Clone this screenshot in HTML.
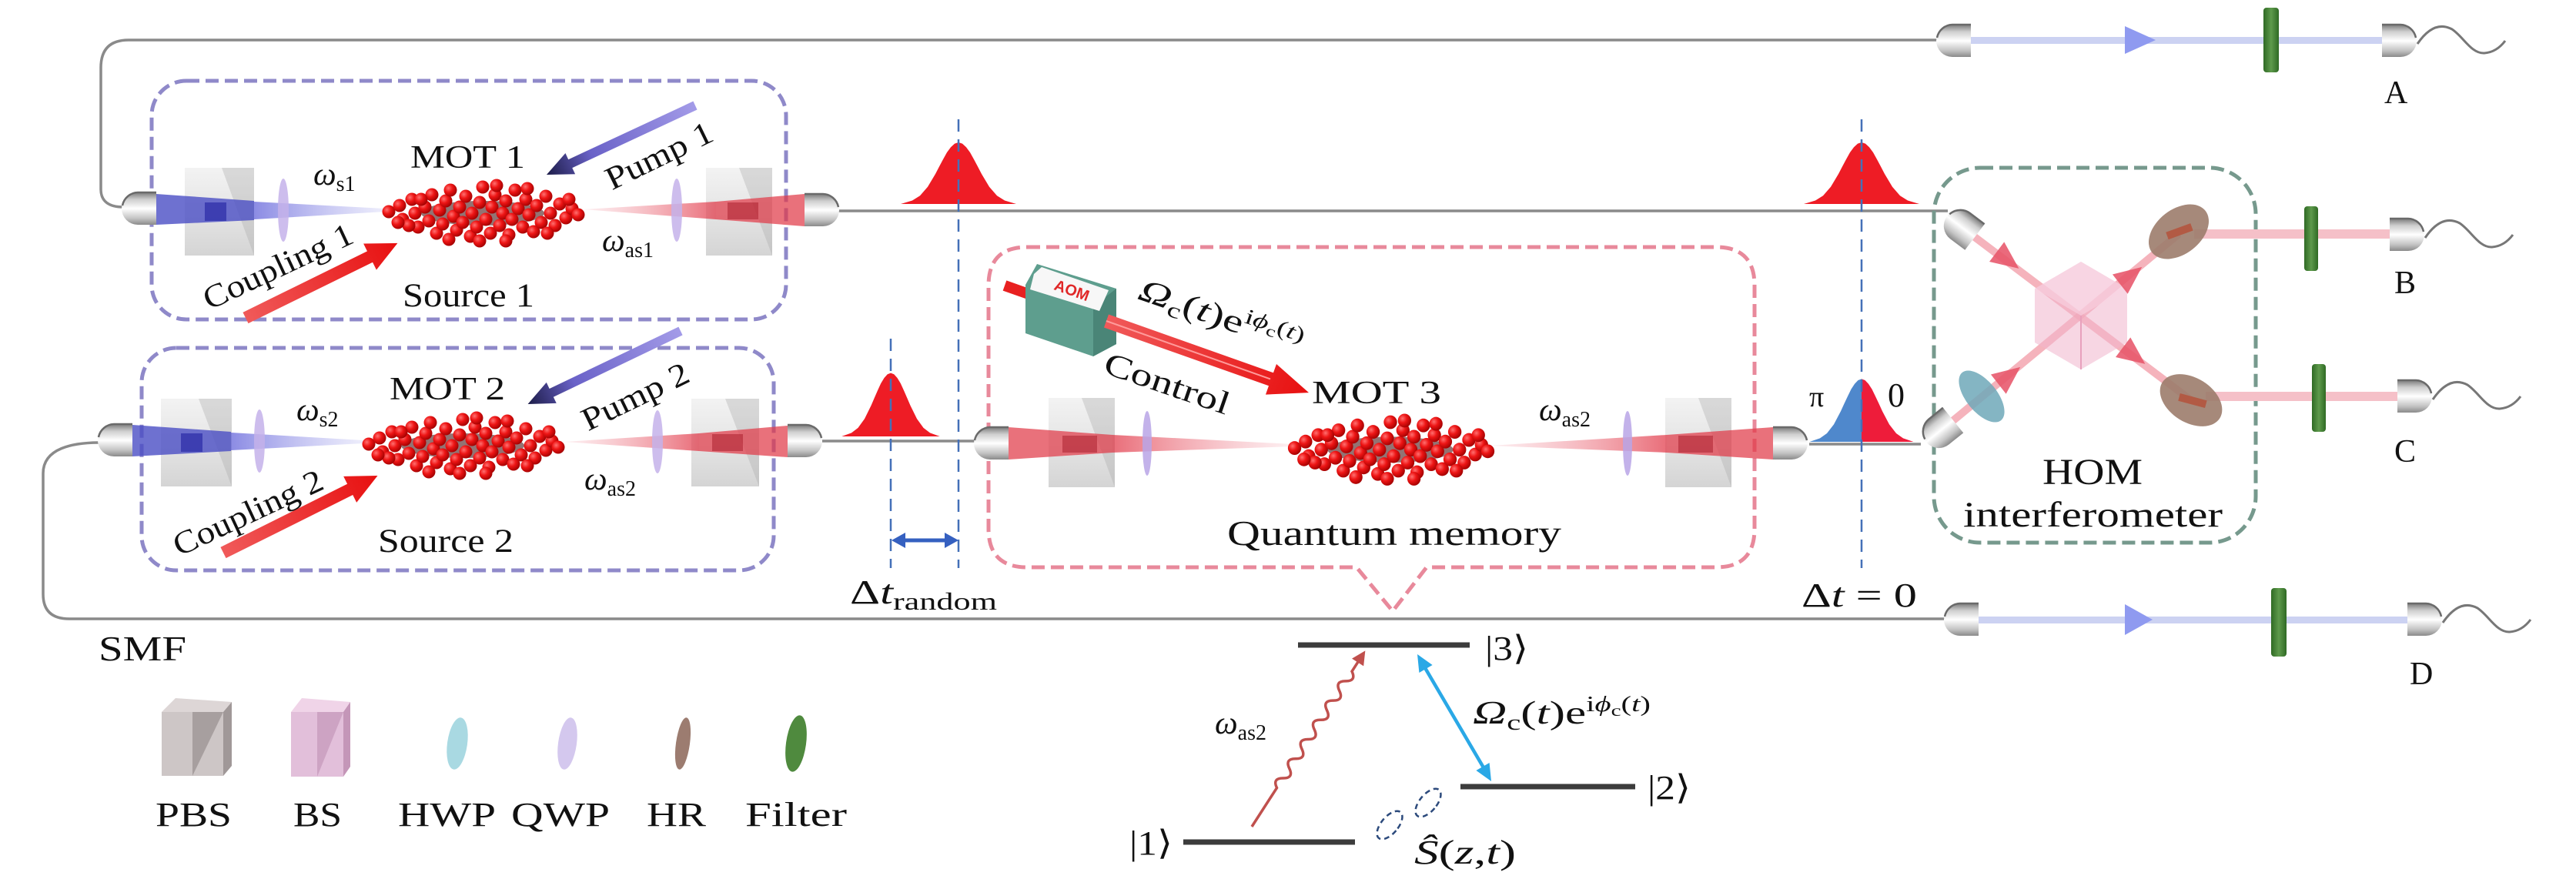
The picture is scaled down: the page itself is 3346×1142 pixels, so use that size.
<!DOCTYPE html>
<html>
<head>
<meta charset="utf-8">
<style>
html,body{margin:0;padding:0;background:#fff;}
svg{display:block;}
text{font-family:"Liberation Serif","DejaVu Serif",serif;fill:#111;}
</style>
</head>
<body>
<svg width="3346" height="1142" viewBox="0 0 3346 1142" xmlns="http://www.w3.org/2000/svg">
<defs>
  <linearGradient id="gCpl" x1="0" y1="0" x2="0" y2="1">
    <stop offset="0" stop-color="#7a7a7a"/>
    <stop offset="0.22" stop-color="#cfcfcf"/>
    <stop offset="0.5" stop-color="#ffffff"/>
    <stop offset="0.8" stop-color="#c4c4c4"/>
    <stop offset="1" stop-color="#8a8a8a"/>
  </linearGradient>
  <radialGradient id="ball" cx="35%" cy="35%" r="70%">
    <stop offset="0" stop-color="#ff7070"/>
    <stop offset="0.45" stop-color="#ee1515"/>
    <stop offset="1" stop-color="#a00000"/>
  </radialGradient>
  <linearGradient id="gPump" x1="0" y1="0" x2="1" y2="0">
    <stop offset="0" stop-color="#a39be8"/>
    <stop offset="0.7" stop-color="#6a62c8"/>
    <stop offset="1" stop-color="#1c1c48"/>
  </linearGradient>
  <linearGradient id="gRed" x1="0" y1="0" x2="1" y2="0">
    <stop offset="0" stop-color="#f05a5a"/>
    <stop offset="1" stop-color="#e81010"/>
  </linearGradient>
  <linearGradient id="gConeB" x1="0" y1="0" x2="1" y2="0">
    <stop offset="0" stop-color="#5a5ad8" stop-opacity="0.7"/>
    <stop offset="1" stop-color="#8a8ae8" stop-opacity="0.15"/>
  </linearGradient>
  <linearGradient id="gConeR" x1="1" y1="0" x2="0" y2="0">
    <stop offset="0" stop-color="#e03040" stop-opacity="0.7"/>
    <stop offset="1" stop-color="#f08090" stop-opacity="0.12"/>
  </linearGradient>
  <linearGradient id="gConeRL" x1="0" y1="0" x2="1" y2="0">
    <stop offset="0" stop-color="#e03040" stop-opacity="0.7"/>
    <stop offset="1" stop-color="#f08090" stop-opacity="0.12"/>
  </linearGradient>
  <linearGradient id="gCube" x1="0" y1="0" x2="0" y2="1">
    <stop offset="0" stop-color="#e6e6e6" stop-opacity="0.5"/>
    <stop offset="1" stop-color="#b8b8b8" stop-opacity="0.6"/>
  </linearGradient>
  <linearGradient id="gFilt" x1="0" y1="0" x2="1" y2="0">
    <stop offset="0" stop-color="#2f6a24"/>
    <stop offset="0.5" stop-color="#5e9a4c"/>
    <stop offset="1" stop-color="#2f6a24"/>
  </linearGradient>

  <g id="cpl">
    <path d="M0,-21 L-24,-21 A21,21 0 0 0 -24,21 L0,21 Z" fill="url(#gCpl)"/>
    <path d="M0,-21 L-24,-21 A21,21 0 0 0 -44,-4" fill="none" stroke="#6a6a6a" stroke-width="2.5"/>
  </g>

  <g id="cloud">
    <ellipse cx="0" cy="4" rx="80" ry="16" fill="#3a0000" opacity="0.55"/>
    <g fill="url(#ball)">
      <circle cx="-122" cy="2" r="8.5"/><circle cx="-108" cy="-6" r="8.5"/><circle cx="-104" cy="12" r="8.5"/>
      <circle cx="-92" cy="-14" r="8.5"/><circle cx="-88" cy="4" r="8.5"/><circle cx="-84" cy="22" r="8.5"/>
      <circle cx="-75" cy="-4" r="8.5"/><circle cx="-70" cy="14" r="8.5"/><circle cx="-66" cy="-20" r="8.5"/>
      <circle cx="-60" cy="30" r="8.5"/><circle cx="-56" cy="0" r="8.5"/><circle cx="-52" cy="18" r="8.5"/>
      <circle cx="-48" cy="-12" r="8.5"/><circle cx="-42" cy="-26" r="8.5"/><circle cx="-38" cy="8" r="8.5"/>
      <circle cx="-34" cy="26" r="8.5"/><circle cx="-30" cy="-4" r="8.5"/><circle cx="-26" cy="16" r="8.5"/>
      <circle cx="-22" cy="-18" r="8.5"/><circle cx="-16" cy="34" r="8.5"/><circle cx="-14" cy="4" r="8.5"/>
      <circle cx="-8" cy="22" r="8.5"/><circle cx="-4" cy="-10" r="8.5"/><circle cx="0" cy="-30" r="8.5"/>
      <circle cx="4" cy="12" r="8.5"/><circle cx="10" cy="30" r="8.5"/><circle cx="12" cy="-4" r="8.5"/>
      <circle cx="16" cy="-20" r="8.5"/><circle cx="22" cy="20" r="8.5"/><circle cx="26" cy="4" r="8.5"/>
      <circle cx="30" cy="-12" r="8.5"/><circle cx="34" cy="32" r="8.5"/><circle cx="38" cy="12" r="8.5"/>
      <circle cx="42" cy="-26" r="8.5"/><circle cx="46" cy="-2" r="8.5"/><circle cx="52" cy="22" r="8.5"/>
      <circle cx="56" cy="-14" r="8.5"/><circle cx="60" cy="6" r="8.5"/><circle cx="66" cy="28" r="8.5"/>
      <circle cx="70" cy="-6" r="8.5"/><circle cx="76" cy="16" r="8.5"/><circle cx="82" cy="-18" r="8.5"/>
      <circle cx="88" cy="4" r="8.5"/><circle cx="94" cy="20" r="8.5"/><circle cx="100" cy="-8" r="8.5"/>
      <circle cx="108" cy="10" r="8.5"/><circle cx="116" cy="-2" r="8.5"/><circle cx="124" cy="6" r="8.5"/>
      <circle cx="-96" cy="20" r="8.5"/><circle cx="-80" cy="-14" r="8.5"/><circle cx="18" cy="-32" r="8.5"/>
      <circle cx="58" cy="-28" r="8.5"/><circle cx="-4" cy="40" r="8.5"/><circle cx="30" cy="40" r="8.5"/>
      <circle cx="-44" cy="38" r="8.5"/><circle cx="84" cy="30" r="8.5"/><circle cx="-110" cy="16" r="8.5"/>
      <circle cx="112" cy="-14" r="8.5"/>
    </g>
  </g>

  <polygon id="pulse" points="-75,0 -60,-4.5 -50,-10.8 -40,-22.2 -30,-39 -25,-48.6 -20,-58 -15,-67 -10,-73.8 -5,-78.4 0,-80 5,-78.4 10,-73.8 15,-67 20,-58 25,-48.6 30,-39 40,-22.2 50,-10.8 60,-4.5 75,0"/>
  <path id="wave" d="M0,4 C15,-18 30,-23 45,-15 C60,-5 70,17 87,16 C100,15 108,8 114,0" fill="none" stroke="#777" stroke-width="3"/>
</defs>

<rect width="3346" height="1142" fill="#fff"/>

<!-- ================= FIBERS ================= -->
<g fill="none" stroke="#8a8a8a" stroke-width="3.5">
  <path d="M160,269 C142,269 131,262 131,246 L131,88 Q131,52 167,52 L2518,52"/>
  <line x1="1088" y1="274" x2="2530" y2="274"/>
  <line x1="1068" y1="573" x2="1268" y2="573"/>
  <line x1="2350" y1="577" x2="2495" y2="577"/>
  <path d="M130,575 C95,575 56,582 56,615 L56,772 Q56,804 90,804 L2526,804"/>
</g>

<!-- ================= DASHED BOXES ================= -->
<g fill="none" stroke-width="5" stroke-dasharray="17 8">
  <rect x="197" y="105" width="824" height="310" rx="45" stroke="#8f89c9"/>
  <rect x="184" y="452" width="821" height="289" rx="45" stroke="#8f89c9"/>
  <path d="M1334,321 L2229,321 Q2279,321 2279,371 L2279,687 Q2279,737 2229,737 L1853,737 L1809,794 L1762,737 L1334,737 Q1284,737 1284,687 L1284,371 Q1284,321 1334,321 Z" stroke="#e8899b"/>
  <rect x="2512" y="218" width="418" height="487" rx="60" stroke="#76998d"/>
</g>

<!-- ================= SOURCE 1 ================= -->
<g>
  <rect x="240" y="218" width="90" height="114" fill="url(#gCube)"/>
  <polygon points="288,218 330,218 330,332" fill="#a8a8a8" opacity="0.35"/>
  <polygon points="203,252 330,261 330,286 203,292" fill="#4a4ec4" opacity="0.8"/>
  <rect x="266" y="263" width="28" height="24" fill="#2020a0" opacity="0.6"/>
  <polygon points="330,262 500,271 500,275 330,285" fill="url(#gConeB)"/>
  <ellipse cx="368" cy="273" rx="7" ry="41" fill="#c4b2ea" opacity="0.85"/>
  <use href="#cpl" transform="translate(203,271)"/>

  <rect x="917" y="218" width="86" height="114" fill="url(#gCube)"/>
  <polygon points="960,218 1003,218 1003,332" fill="#a8a8a8" opacity="0.35"/>
  <polygon points="757,272 930,262 930,285" fill="url(#gConeR)"/>
  <polygon points="930,262 1045,252 1045,294 930,285" fill="#e03a48" opacity="0.72"/>
  <rect x="945" y="263" width="40" height="22" fill="#a01020" opacity="0.45"/>
  <ellipse cx="879" cy="273" rx="7" ry="41" fill="#c4b2ea" opacity="0.85"/>
  <use href="#cpl" transform="translate(1045,273) scale(-1,1)"/>

  <use href="#cloud" transform="translate(627,273)"/>
</g>

<!-- ================= SOURCE 2 ================= -->
<g>
  <rect x="209" y="518" width="92" height="114" fill="url(#gCube)"/>
  <polygon points="258,518 301,518 301,632" fill="#a8a8a8" opacity="0.35"/>
  <polygon points="172,552 300,561 300,586 172,593" fill="#4a4ec4" opacity="0.8"/>
  <rect x="235" y="563" width="28" height="24" fill="#2020a0" opacity="0.6"/>
  <polygon points="300,562 472,572 472,576 300,585" fill="url(#gConeB)"/>
  <ellipse cx="337" cy="573" rx="7" ry="41" fill="#c4b2ea" opacity="0.85"/>
  <use href="#cpl" transform="translate(172,572)"/>

  <rect x="898" y="518" width="88" height="114" fill="url(#gCube)"/>
  <polygon points="942,518 986,518 986,632" fill="#a8a8a8" opacity="0.35"/>
  <polygon points="733,574 908,563 908,586" fill="url(#gConeR)"/>
  <polygon points="908,563 1023,553 1023,594 908,586" fill="#e03a48" opacity="0.72"/>
  <rect x="925" y="564" width="40" height="22" fill="#a01020" opacity="0.45"/>
  <ellipse cx="854" cy="574" rx="7" ry="41" fill="#c4b2ea" opacity="0.85"/>
  <use href="#cpl" transform="translate(1023,573) scale(-1,1)"/>

  <use href="#cloud" transform="translate(601,575)"/>
</g>

<!-- ================= MEMORY ================= -->
<g>
  <rect x="1362" y="517" width="86" height="116" fill="url(#gCube)"/>
  <polygon points="1405,517 1448,517 1448,633" fill="#a8a8a8" opacity="0.35"/>
  <polygon points="1310,555 1445,565 1445,588 1310,597" fill="#e03a48" opacity="0.72"/>
  <rect x="1380" y="566" width="45" height="22" fill="#a01020" opacity="0.45"/>
  <polygon points="1445,565 1680,577 1680,580 1445,588" fill="url(#gConeRL)"/>
  <ellipse cx="1490" cy="576" rx="6" ry="42" fill="#b9a4e6" opacity="0.85"/>
  <use href="#cpl" transform="translate(1310,576)"/>

  <rect x="2163" y="517" width="86" height="116" fill="url(#gCube)"/>
  <polygon points="2206,517 2249,517 2249,633" fill="#a8a8a8" opacity="0.35"/>
  <polygon points="1935,579 2165,565 2165,588" fill="url(#gConeR)"/>
  <polygon points="2165,565 2303,555 2303,597 2165,588" fill="#e03a48" opacity="0.72"/>
  <rect x="2180" y="566" width="45" height="22" fill="#a01020" opacity="0.45"/>
  <ellipse cx="2114" cy="576" rx="6" ry="42" fill="#b9a4e6" opacity="0.85"/>
  <use href="#cpl" transform="translate(2303,576) scale(-1,1)"/>

  <use href="#cloud" transform="translate(1806,580) scale(1.02,1.05)"/>

  <!-- AOM -->
  <g transform="translate(1305,371) rotate(19.5)"><rect x="0" y="-7" width="38" height="14" fill="#e82020"/></g>
  <polygon points="1332,370 1347,343 1450,375 1450,447 1420,463 1332,433" fill="#5e9e8e"/>
  <polygon points="1420,398 1450,375 1450,447 1420,463" fill="#4a8577"/>
  <polygon points="1343,356 1353,347 1440,377 1428,404 1338,376" fill="#f7f7f7"/>
  <text x="1392" y="384" font-size="20" text-anchor="middle" style="fill:#e02828;font-family:'Liberation Sans',sans-serif;font-weight:bold" transform="rotate(19.5 1392 378)">AOM</text>

  <!-- control arrow -->
  <g transform="translate(1437,417) rotate(19.5)">
    <polygon points="0,-9 227,-9 227,-21 279,0 227,21 227,9 0,9" fill="url(#gRed)"/>
    <line x1="0" y1="0" x2="226" y2="0" stroke="#ff9a9a" stroke-width="2"/>
  </g>
</g>

<!-- ================= PUMP / COUPLING ARROWS ================= -->
<g transform="translate(903,137) rotate(155)"><polygon points="0,-6 179,-6 179,-15 213,0 179,15 179,6 0,6" fill="url(#gPump)"/></g>
<g transform="translate(884,430) rotate(154.4)"><polygon points="0,-6 186,-6 186,-15 220,0 186,15 186,6 0,6" fill="url(#gPump)"/></g>
<g transform="translate(319,413) rotate(-26.2)"><polygon points="0,-8 180,-8 180,-19 220,0 180,19 180,8 0,8" fill="url(#gRed)"/></g>
<g transform="translate(290,718) rotate(-26.5)"><polygon points="0,-8 184,-8 184,-19 224,0 184,19 184,8 0,8" fill="url(#gRed)"/></g>

<!-- ================= PULSES ================= -->
<use href="#pulse" fill="#ee1c25" transform="translate(1245,265)"/>
<use href="#pulse" fill="#ee1c25" transform="translate(1157,567) scale(0.85,1.03)"/>
<use href="#pulse" fill="#ee1c25" transform="translate(2418,265)"/>
<g transform="translate(2418,574) scale(0.9,1.02)">
  <polygon points="-75,0 -60,-4.5 -50,-10.8 -40,-22.2 -30,-39 -25,-48.6 -20,-58 -15,-67 -10,-73.8 -5,-78.4 0,-80 0,0" fill="#4f88cc"/>
  <polygon points="0,-80 5,-78.4 10,-73.8 15,-67 20,-58 25,-48.6 30,-39 40,-22.2 50,-10.8 60,-4.5 75,0 0,0" fill="#ee1c3a"/>
</g>

<!-- dashed time markers -->
<g stroke="#4470b8" stroke-width="2.5" stroke-dasharray="16 10" fill="none">
  <line x1="1245" y1="155" x2="1245" y2="738"/>
  <line x1="1157" y1="440" x2="1157" y2="738"/>
  <line x1="2418" y1="155" x2="2418" y2="738"/>
</g>
<g>
  <line x1="1172" y1="702" x2="1231" y2="702" stroke="#3560c0" stroke-width="5"/>
  <polygon points="1158,702 1176,692 1176,712" fill="#3560c0"/>
  <polygon points="1245,702 1227,692 1227,712" fill="#3560c0"/>
</g>

<!-- ================= HOM ================= -->
<g>
  <line x1="2565" y1="308" x2="2846" y2="520" stroke="#f29aa6" stroke-width="10" opacity="0.75"/>
  <line x1="2535" y1="548" x2="2830" y2="304" stroke="#f29aa6" stroke-width="10" opacity="0.75"/>
  <rect x="2850" y="298" width="254" height="12" fill="#f5c0c8"/>
  <rect x="2865" y="509" width="249" height="12" fill="#f5c0c8"/>
  <polygon points="2703,340 2763,375 2763,445 2703,480 2643,445 2643,375" fill="#f0b4cc" opacity="0.55"/>
  <polygon points="2703,340 2763,375 2703,410 2643,375" fill="#f8d4e2" opacity="0.6"/>
  <line x1="2703" y1="410" x2="2703" y2="480" stroke="#e8a0bc" stroke-width="2"/>
  <g fill="#e8566a" opacity="0.88">
    <polygon points="-18,-16 18,0 -18,16" transform="translate(2608,338) rotate(37)"/>
    <polygon points="-18,-16 18,0 -18,16" transform="translate(2772,462) rotate(37)"/>
    <polygon points="-18,-16 18,0 -18,16" transform="translate(2610,488) rotate(-38)"/>
    <polygon points="-18,-16 18,0 -18,16" transform="translate(2768,358) rotate(-38)"/>
  </g>
  <ellipse cx="2830" cy="301" rx="44" ry="29" fill="#9c7c6c" opacity="0.9" transform="rotate(-38 2830 301)"/>
  <rect x="2814" y="296" width="34" height="10" fill="#b25a44" transform="rotate(-20 2830 301)"/>
  <ellipse cx="2846" cy="520" rx="44" ry="29" fill="#9c7c6c" opacity="0.9" transform="rotate(32 2846 520)"/>
  <rect x="2830" y="515" width="36" height="10" fill="#b25a44" transform="rotate(15 2846 520)"/>
  <ellipse cx="2574" cy="515" rx="20" ry="40" fill="#6fa8b8" opacity="0.85" transform="rotate(-39 2574 515)"/>
  <use href="#cpl" transform="translate(2565,308) rotate(37)"/>
  <use href="#cpl" transform="translate(2537,546) rotate(-39)"/>
</g>

<!-- ================= DETECTION ARMS ================= -->
<g>
  <rect x="2560" y="48" width="534" height="9" fill="#ccd2f2"/>
  <polygon points="2760,34 2800,52 2760,70" fill="#8f9af0"/>
  <rect x="2940" y="10" width="20" height="84" rx="4" fill="url(#gFilt)"/>
  <use href="#cpl" transform="translate(2560,53)"/>
  <use href="#cpl" transform="translate(3094,53) scale(-1,1)"/>
  <use href="#wave" transform="translate(3140,53)"/>

  <rect x="2570" y="801" width="557" height="9" fill="#ccd2f2"/>
  <polygon points="2760,785 2796,805 2760,825" fill="#8f9af0"/>
  <rect x="2950" y="764" width="20" height="89" rx="4" fill="url(#gFilt)"/>
  <use href="#cpl" transform="translate(2570,805)"/>
  <use href="#cpl" transform="translate(3127,805) scale(-1,1)"/>
  <use href="#wave" transform="translate(3173,805)"/>

  <rect x="2993" y="268" width="18" height="84" rx="4" fill="url(#gFilt)"/>
  <use href="#cpl" transform="translate(3104,305) scale(-1,1)"/>
  <use href="#wave" transform="translate(3150,305)"/>

  <rect x="3003" y="473" width="18" height="88" rx="4" fill="url(#gFilt)"/>
  <use href="#cpl" transform="translate(3114,515) scale(-1,1)"/>
  <use href="#wave" transform="translate(3160,515)"/>
</g>

<!-- ================= LEGEND ICONS ================= -->
<g>
  <polygon points="210,925 228,907 301,912 290,925" fill="#ddd6d6"/>
  <rect x="210" y="925" width="80" height="83" fill="#c4bcbc" opacity="0.85"/>
  <polygon points="290,925 301,912 301,995 290,1008" fill="#a09898"/>
  <polygon points="250,925 290,925 250,1008" fill="#8e8686" opacity="0.6"/>
  <polygon points="378,925 392,907 455,912 446,925" fill="#f0d4e8"/>
  <rect x="378" y="925" width="68" height="84" fill="#ddb4d4" opacity="0.85"/>
  <polygon points="446,925 455,912 455,996 446,1009" fill="#c496b8"/>
  <polygon points="412,925 446,925 412,1009" fill="#b888ac" opacity="0.5"/>
  <ellipse cx="594" cy="966" rx="13" ry="34" fill="#a9d9e2" transform="rotate(8 594 966)"/>
  <ellipse cx="737" cy="966" rx="12" ry="34" fill="#d4c8ee" transform="rotate(8 737 966)"/>
  <ellipse cx="887" cy="966" rx="9" ry="34" fill="#9c7c70" transform="rotate(8 887 966)"/>
  <ellipse cx="1034" cy="966" rx="13" ry="37" fill="#4f8a3e" transform="rotate(8 1034 966)"/>
</g>

<!-- ================= LEVEL DIAGRAM ================= -->
<g>
  <line x1="1686" y1="838" x2="1909" y2="838" stroke="#3c3c3c" stroke-width="7"/>
  <line x1="1897" y1="1022" x2="2124" y2="1022" stroke="#3c3c3c" stroke-width="7"/>
  <line x1="1537" y1="1094" x2="1760" y2="1094" stroke="#3c3c3c" stroke-width="7"/>
  <g transform="translate(1626,1074) rotate(-57.2)">
    <path d="M0,0 L60,0 q7.5,-12 15,0 t15,0 t15,0 t15,0 t15,0 t15,0 t15,0 t15,0 t15,0 t15,0 t15,0 t15,0 L256,0" fill="none" stroke="#c0504d" stroke-width="3.5"/>
    <polygon points="254,-9 272,0 254,9" fill="#c0504d"/>
  </g>
  <line x1="1850" y1="866" x2="1928" y2="999" stroke="#2aa8e6" stroke-width="4.5"/>
  <polygon points="1841,850 1860.6,864 1843.4,874" fill="#2aa8e6"/>
  <polygon points="1937,1015 1934.6,991 1917.4,1001" fill="#2aa8e6"/>
  <g fill="none" stroke="#2c4a7c" stroke-width="2.5" stroke-dasharray="7 5">
    <ellipse cx="1855" cy="1043" rx="11" ry="22" transform="rotate(40 1855 1043)"/>
    <ellipse cx="1805" cy="1072" rx="11" ry="22" transform="rotate(40 1805 1072)"/>
  </g>
</g>

<!-- ================= TEXT ================= -->
<g font-size="42">
  <text x="533" y="218" textLength="149" lengthAdjust="spacingAndGlyphs">MOT 1</text>
  <text x="506" y="519" textLength="150" lengthAdjust="spacingAndGlyphs">MOT 2</text>
  <text x="1704" y="524" textLength="168" lengthAdjust="spacingAndGlyphs">MOT 3</text>
  <text x="523" y="398" font-size="43" textLength="171" lengthAdjust="spacingAndGlyphs">Source 1</text>
  <text x="491" y="717" font-size="43" textLength="176" lengthAdjust="spacingAndGlyphs">Source 2</text>
  <text x="128" y="858" font-size="46" textLength="114" lengthAdjust="spacingAndGlyphs">SMF</text>
  <text x="1594" y="708" font-size="45" textLength="434" lengthAdjust="spacingAndGlyphs">Quantum memory</text>
  <text x="2653" y="629" font-size="48" textLength="130" lengthAdjust="spacingAndGlyphs">HOM</text>
  <text x="2550" y="684" font-size="47" textLength="337" lengthAdjust="spacingAndGlyphs">interferometer</text>
  <text x="3097" y="134">A</text>
  <text x="3110" y="381">B</text>
  <text x="3110" y="600">C</text>
  <text x="3130" y="889">D</text>

  <text x="202" y="1073" font-size="44" textLength="99" lengthAdjust="spacingAndGlyphs">PBS</text>
  <text x="381" y="1073" font-size="44" textLength="63" lengthAdjust="spacingAndGlyphs">BS</text>
  <text x="517" y="1073" font-size="44" textLength="127" lengthAdjust="spacingAndGlyphs">HWP</text>
  <text x="664" y="1073" font-size="44" textLength="128" lengthAdjust="spacingAndGlyphs">QWP</text>
  <text x="840" y="1073" font-size="44" textLength="77" lengthAdjust="spacingAndGlyphs">HR</text>
  <text x="968" y="1073" font-size="44" textLength="132" lengthAdjust="spacingAndGlyphs">Filter</text>

  <!-- omega labels -->
  <text x="407" y="240"><tspan font-style="italic">ω</tspan><tspan font-size="28" dy="8">s1</tspan></text>
  <text x="782" y="326"><tspan font-style="italic">ω</tspan><tspan font-size="28" dy="8">as1</tspan></text>
  <text x="385" y="546"><tspan font-style="italic">ω</tspan><tspan font-size="28" dy="8">s2</tspan></text>
  <text x="759" y="636"><tspan font-style="italic">ω</tspan><tspan font-size="28" dy="8">as2</tspan></text>
  <text x="1999" y="546"><tspan font-style="italic">ω</tspan><tspan font-size="28" dy="8">as2</tspan></text>
  <text x="1578" y="953"><tspan font-style="italic">ω</tspan><tspan font-size="28" dy="8">as2</tspan></text>

  <!-- rotated labels -->
  <text x="856" y="216" text-anchor="middle" textLength="150" lengthAdjust="spacingAndGlyphs" transform="rotate(-26 856 202)">Pump 1</text>
  <text x="825" y="529" text-anchor="middle" textLength="150" lengthAdjust="spacingAndGlyphs" transform="rotate(-26 825 515)">Pump 2</text>
  <text x="361" y="360" text-anchor="middle" textLength="210" lengthAdjust="spacingAndGlyphs" transform="rotate(-25 361 346)">Coupling 1</text>
  <text x="322" y="680" text-anchor="middle" textLength="210" lengthAdjust="spacingAndGlyphs" transform="rotate(-25 322 666)">Coupling 2</text>
  <text x="1516" y="512" text-anchor="middle" textLength="170" lengthAdjust="spacingAndGlyphs" transform="rotate(19 1516 498)">Control</text>
  <text x="1474" y="424" textLength="222" lengthAdjust="spacingAndGlyphs" transform="rotate(19 1583 413)"><tspan font-style="italic">Ω</tspan><tspan font-size="28" dy="8">c</tspan><tspan dy="-8">(</tspan><tspan font-style="italic">t</tspan><tspan>)e</tspan><tspan font-size="28" dy="-16">i</tspan><tspan font-size="28" font-style="italic">ϕ</tspan><tspan font-size="20" dy="6">c</tspan><tspan font-size="28" dy="-6">(</tspan><tspan font-size="28" font-style="italic">t</tspan><tspan font-size="28">)</tspan></text>

  <!-- delta t -->
  <text x="1104" y="784" font-size="44" textLength="191" lengthAdjust="spacingAndGlyphs"><tspan>Δ</tspan><tspan font-style="italic">t</tspan><tspan font-size="32" dy="8">random</tspan></text>
  <text x="2340" y="788" font-size="44" textLength="150" lengthAdjust="spacingAndGlyphs"><tspan>Δ</tspan><tspan font-style="italic">t</tspan><tspan> = 0</tspan></text>
  <text x="2350" y="528" font-size="38">π</text>
  <text x="2452" y="528" font-size="44">0</text>

  <!-- level labels -->
  <text x="1929" y="857" font-size="44" textLength="56" lengthAdjust="spacingAndGlyphs" style="font-family:'Liberation Serif','DejaVu Sans',serif">|3⟩</text>
  <text x="2140" y="1038" font-size="44" textLength="56" lengthAdjust="spacingAndGlyphs" style="font-family:'Liberation Serif','DejaVu Sans',serif">|2⟩</text>
  <text x="1467" y="1110" font-size="44" textLength="56" lengthAdjust="spacingAndGlyphs" style="font-family:'Liberation Serif','DejaVu Sans',serif">|1⟩</text>
  <text x="1913" y="940" font-size="42" textLength="231" lengthAdjust="spacingAndGlyphs"><tspan font-style="italic">Ω</tspan><tspan font-size="28" dy="8">c</tspan><tspan dy="-8">(</tspan><tspan font-style="italic">t</tspan><tspan>)e</tspan><tspan font-size="28" dy="-16">i</tspan><tspan font-size="28" font-style="italic">ϕ</tspan><tspan font-size="20" dy="6">c</tspan><tspan font-size="28" dy="-6">(</tspan><tspan font-size="28" font-style="italic">t</tspan><tspan font-size="28">)</tspan></text>
  <text x="1837" y="1122" font-size="44" textLength="132" lengthAdjust="spacingAndGlyphs"><tspan font-style="italic">Ŝ</tspan><tspan>(</tspan><tspan font-style="italic">z</tspan><tspan>,</tspan><tspan font-style="italic">t</tspan><tspan>)</tspan></text>
</g>
</svg>
</body>
</html>
